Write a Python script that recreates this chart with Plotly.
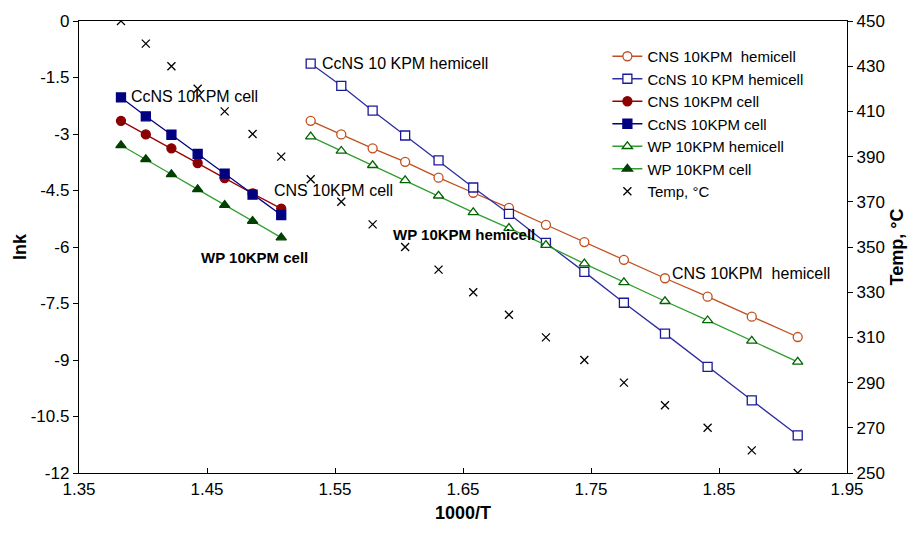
import plotly.graph_objects as go

# x = 1000/T values
x_cell = [1.3828, 1.4022, 1.4222, 1.4427, 1.4638, 1.4856, 1.5080]
x_hemi = [1.5310, 1.5549, 1.5794, 1.6048, 1.6309, 1.6580, 1.6859,
          1.7148, 1.7448, 1.7757, 1.8078, 1.8411, 1.8756, 1.9115]
x_temp = x_cell + x_hemi

cns_hemi = [-2.65, -3.01, -3.38, -3.74, -4.16, -4.56, -4.96, -5.41, -5.87, -6.34, -6.83, -7.32, -7.85, -8.39]
ccns_hemi = [-1.13, -1.72, -2.38, -3.04, -3.70, -4.42, -5.12, -5.89, -6.66, -7.48, -8.30, -9.18, -10.07, -11.00]
cns_cell = [-2.65, -3.01, -3.38, -3.77, -4.17, -4.58, -4.98]
ccns_cell = [-2.03, -2.53, -3.02, -3.53, -4.05, -4.61, -5.15]
wp_hemi = [-3.07, -3.45, -3.83, -4.23, -4.64, -5.08, -5.50, -5.95, -6.44, -6.94, -7.44, -7.95, -8.49, -9.05]
wp_cell = [-3.30, -3.67, -4.07, -4.47, -4.89, -5.31, -5.75]
temp = [450, 440, 430, 420, 410, 400, 390, 380, 370, 360, 350, 340, 330,
        320, 310, 300, 290, 280, 270, 260, 250]

x_ticks = [1.35, 1.45, 1.55, 1.65, 1.75, 1.85, 1.95]
y_ticks = [0, -1.5, -3, -4.5, -6, -7.5, -9, -10.5, -12]
y2_ticks = [450, 430, 410, 390, 370, 350, 330, 310, 290, 270, 250]

FONT = "Liberation Sans, Arial, sans-serif"

fig = go.Figure()

def add(name, x, y, lc, mc, sym, fill, size=8):
    fig.add_trace(go.Scatter(
        x=x, y=y, name=name, mode="lines+markers",
        line=dict(color=lc, width=1.3),
        marker=dict(symbol=sym, size=size, color=(mc if fill else "white"),
                    line=dict(color=mc, width=1.3)),
    ))

add("CNS 10KPM  hemicell", x_hemi, cns_hemi, "#C0501E", "#C0501E", "circle", False, 9)
add("CcNS 10 KPM hemicell", x_hemi, ccns_hemi, "#2E2EA0", "#1A1A99", "square", False, 9)
add("CNS 10KPM cell", x_cell, cns_cell, "#990000", "#8B0000", "circle", True, 9)
add("CcNS 10KPM cell", x_cell, ccns_cell, "#000080", "#000080", "square", True, 9)
add("WP 10KPM hemicell", x_hemi, wp_hemi, "#2E9E2E", "#006400", "triangle-up", False, 9)
add("WP 10KPM cell", x_cell, wp_cell, "#2E9E2E", "#004000", "triangle-up", True, 9)

fig.add_trace(go.Scatter(
    x=x_temp, y=temp, name="Temp, °C", mode="markers", yaxis="y2",
    marker=dict(symbol="x-thin", size=8, color="black", line=dict(color="black", width=1.3)),
))

annots = [
    ("CcNS 10KPM cell", 1.3890, -2.00, False),
    ("CcNS 10 KPM hemicell", 1.5380, -1.13, False),
    ("CNS 10KPM cell", 1.5005, -4.50, False),
    ("CNS 10KPM  hemicell", 1.8120, -6.70, False),
    ("WP 10KPM cell", 1.4440, -6.28, True),
    ("WP 10KPM hemicell", 1.5940, -5.67, True),
]
for txt, ax, ay, bold in annots:
    fig.add_annotation(
        x=ax, y=ay, xref="x", yref="y", text=(f"<b>{txt}</b>" if bold else txt),
        showarrow=False, xanchor="left", yanchor="middle",
        font=dict(family=FONT, size=15 if bold else 16, color="black"),
    )

# left axis title placed by position
fig.add_annotation(x=20, y=0.5, xref="paper", yref="paper", text="<b>lnk</b>",
                   showarrow=False, textangle=-90, xanchor="center", yanchor="middle",
                   font=dict(family=FONT, size=18, color="black"))
fig.layout.annotations[-1].update(x=(20 - 79) / 768)

fig.update_layout(
    width=916, height=535,
    margin=dict(l=79, r=69, t=18, b=62),
    plot_bgcolor="white", paper_bgcolor="white",
    font=dict(family=FONT, size=17, color="black"),
    showlegend=True,
    legend=dict(x=0.688, y=0.958, xanchor="left", yanchor="top",
                bgcolor="rgba(0,0,0,0)", font=dict(family=FONT, size=15),
                tracegroupgap=0, itemwidth=30),
    xaxis=dict(range=[1.35, 1.95], tickvals=x_ticks, ticktext=[f"{v:.2f}" for v in x_ticks],
               showgrid=False, zeroline=False, showline=True, linecolor="black", linewidth=1.3,
               mirror=True, ticks="inside", ticklen=5, tickcolor="black",
               title=dict(text="<b>1000/T</b>", font=dict(size=18), standoff=8)),
    yaxis=dict(range=[-12, 0], tickvals=y_ticks, ticktext=[f"{v:g}" for v in y_ticks],
               showgrid=False, zeroline=False, showline=True, linecolor="black", linewidth=1.3,
               ticks="outside", ticklen=5, tickcolor="black"),
    yaxis2=dict(range=[250, 450], tickvals=y2_ticks, overlaying="y", side="right",
                showgrid=False, zeroline=False, showline=True, linecolor="black", linewidth=1.3,
                ticks="outside", ticklen=5, tickcolor="black",
                title=dict(text="<b>Temp, °C</b>", font=dict(size=18), standoff=6)),
)

fig.write_html("out.html")
